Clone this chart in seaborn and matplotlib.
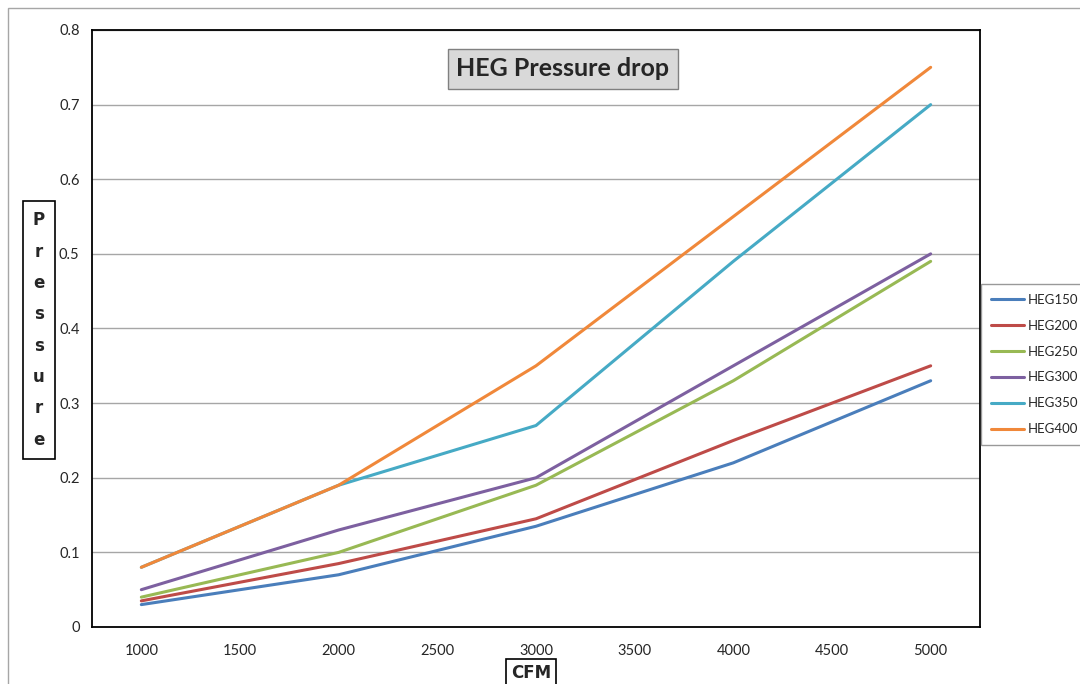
import pandas as pd
import numpy as np
import matplotlib
matplotlib.use("Agg")
import matplotlib.pyplot as plt
from matplotlib.patches import Rectangle
import seaborn as sns

# data
cfm = [1000, 2000, 3000, 4000, 5000]
heg150 = [0.03, 0.07, 0.135, 0.22, 0.33]
heg200 = [0.035, 0.085, 0.145, 0.25, 0.35]
heg250 = [0.04, 0.10, 0.19, 0.33, 0.49]
heg300 = [0.05, 0.13, 0.20, 0.35, 0.50]
heg350 = [0.08, 0.19, 0.27, 0.49, 0.70]
heg400 = [0.08, 0.19, 0.35, 0.55, 0.75]
series_names = ["HEG150", "HEG200", "HEG250", "HEG300", "HEG350", "HEG400"]
colors = ["#4A7EBB", "#BE4B48", "#98B954", "#7D60A0", "#46AAC5", "#F0883A"]
x_ticks = [1000, 1500, 2000, 2500, 3000, 3500, 4000, 4500, 5000]
y_ticks = [0, 0.1, 0.2, 0.3, 0.4, 0.5, 0.6, 0.7, 0.8]

rows = []
for name, vals in zip(series_names, [heg150, heg200, heg250, heg300, heg350, heg400]):
    for x, v in zip(cfm, vals):
        rows.append({"CFM": x, "Pressure": v, "Series": name})
df = pd.DataFrame(rows)

sns.set_style("white")
plt.rcParams["font.family"] = ["Lato", "DejaVu Sans"]

fig = plt.figure(figsize=(10.8, 6.84), dpi=100)
ax = fig.add_axes([92 / 1080, 1 - 627 / 684, (980 - 92) / 1080, (627 - 30) / 684])

sns.lineplot(data=df, x="CFM", y="Pressure", hue="Series", palette=colors,
             linewidth=2.2, ax=ax)

ax.set_xlim(750, 5250)
ax.set_ylim(0, 0.8)
ax.set_xticks(x_ticks)
ax.set_xticklabels([str(t) for t in x_ticks])
ax.set_xticks(np.arange(750, 5251, 500), minor=True)
ax.set_yticks(y_ticks)
ax.set_yticklabels(["0" if t == 0 else f"{t:.1f}" for t in y_ticks])
ax.tick_params(axis="x", which="major", length=0, pad=12, labelsize=10.5)
ax.tick_params(axis="x", which="minor", length=5, width=1, color="#808080", direction="out")
ax.tick_params(axis="y", which="major", length=5, width=1, color="#808080",
               direction="out", pad=4, labelsize=10.5)
ax.yaxis.grid(True, color="#a6a6a6", linewidth=1)
ax.xaxis.grid(False)
for s in ax.spines.values():
    s.set_visible(True)
    s.set_color("black")
    s.set_linewidth(1.3)
ax.set_xlabel("")
ax.set_ylabel("")

# title box
fig.text(563 / 1080, 1 - 69 / 684, "HEG Pressure drop", ha="center", va="center",
         fontsize=18, fontweight="bold",
         bbox=dict(boxstyle="square,pad=0.35", facecolor="#d9d9d9", edgecolor="#808080", linewidth=1))

# axis labels
fig.text(39 / 1080, 1 - 330 / 684, "P\nr\ne\ns\ns\nu\nr\ne", ha="center", va="center",
         fontsize=12, fontweight="bold", family="DejaVu Sans", linespacing=1.95,
         bbox=dict(boxstyle="square,pad=0.6", facecolor="white", edgecolor="black", linewidth=1.2))
fig.text(531 / 1080, 1 - 673 / 684, "CFM", ha="center", va="center",
         fontsize=12, fontweight="bold", family="DejaVu Sans",
         bbox=dict(boxstyle="square,pad=0.3", facecolor="white", edgecolor="black", linewidth=1.2))

# legend
leg = ax.legend(loc="upper left", bbox_to_anchor=(981 / 1080, 1 - 284 / 684),
                bbox_transform=fig.transFigure, borderaxespad=0, frameon=True,
                fancybox=False, edgecolor="#808080", fontsize=9.5, handlelength=2.5,
                handletextpad=0.3, labelspacing=1.05, borderpad=0.75, title=None)
leg.get_frame().set_linewidth(1)

# outer chart border
fig.patches.append(Rectangle((8 / 1080, -0.1), 1.2, 1.1 - 8 / 684, transform=fig.transFigure,
                             fill=False, edgecolor="#a6a6a6", linewidth=1))

fig.savefig("out.png", dpi=100)
